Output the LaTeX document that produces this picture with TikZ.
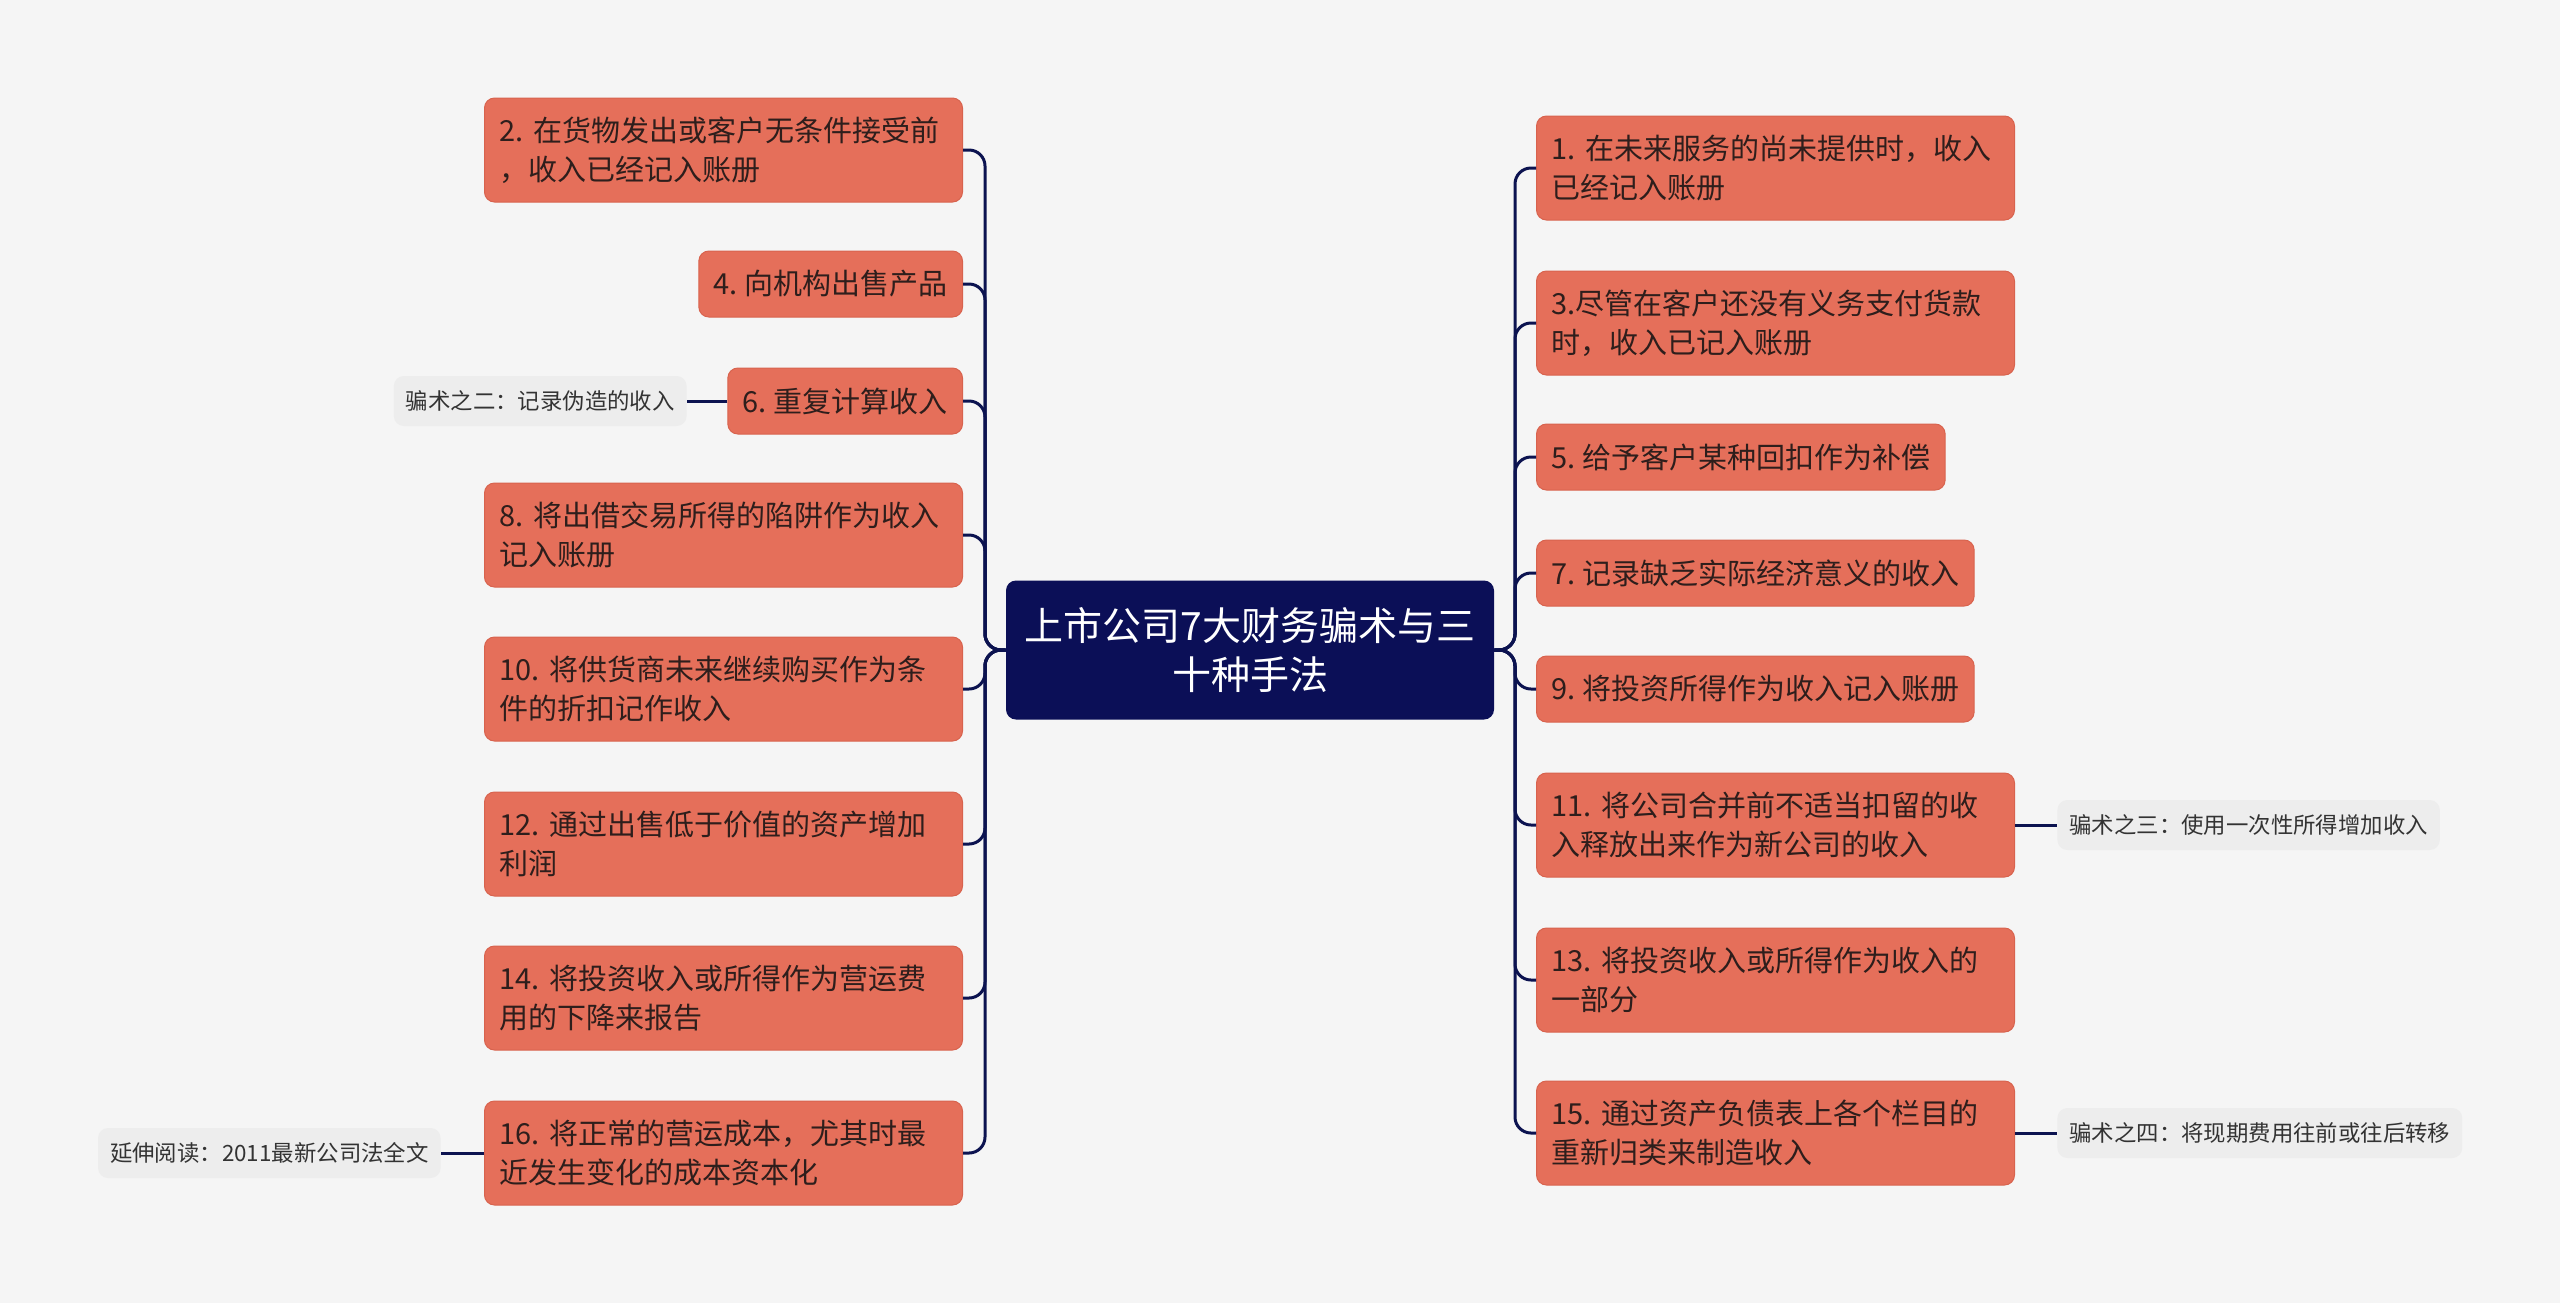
\documentclass[tikz,border=0pt]{standalone}
\usepackage{fontspec}
\setmainfont{Noto Sans CJK SC}
\usepackage{xcolor}
\usetikzlibrary{positioning, calc}

\definecolor{pagebg}{HTML}{F5F5F5}
\definecolor{coral}{HTML}{E56F5A}
\definecolor{coralline}{HTML}{D8634E}
\definecolor{navy}{HTML}{0B0F57}
\definecolor{linknavy}{HTML}{0C1350}
\definecolor{darktext}{HTML}{2E1E1C}
\definecolor{notebg}{HTML}{EDEDED}

\newcommand{\topicfont}{\fontsize{14.5pt}{19.6pt}\selectfont\frenchspacing}

\tikzset{
  topic/.style={rectangle, rounded corners=5pt, fill=coral, draw=coralline, line width=0.5pt,
    text=darktext, font=\topicfont,
    inner xsep=7.5pt, inner ysep=0pt, minimum height=33pt, align=left},
  widetopic/.style={topic, text width=224pt, minimum height=52pt},
  rootbox/.style={rectangle, rounded corners=5pt, fill=navy, text=white,
    font=\fontsize{19.5pt}{24.5pt}\selectfont, minimum width=244pt, minimum height=69.5pt, align=center},
  note/.style={rectangle, rounded corners=5pt, fill=notebg, text=black!80,
    font=\fontsize{11.2pt}{14pt}\selectfont, inner xsep=6pt, inner ysep=0pt, minimum height=25pt},
  link/.style={draw=linknavy, line width=1.5pt, rounded corners=8pt}
}

\begin{document}
\begin{tikzpicture}[x=0.5pt, y=-0.5pt]
\fill[pagebg] (0,0) rectangle (2560,1303);
\useasboundingbox (0,0) rectangle (2560,1303);

% central topic
\node[rootbox] (root) at (1250,650) {上市公司7大财务骗术与三\\十种手法};
\coordinate (ltrunk) at (985,650);
\coordinate (rtrunk) at (1515,650);

% left branches
\node[widetopic, anchor=east] (l2) at (963,150) {2. 在货物发出或客户无条件接受前\\，收入已经记入账册};
\node[topic, anchor=east] (l4) at (963,284) {4. 向机构出售产品};
\node[topic, anchor=east] (l6) at (963,401) {6. 重复计算收入};
\node[widetopic, anchor=east] (l8) at (963,535) {8. 将出借交易所得的陷阱作为收入\\记入账册};
\node[widetopic, anchor=east] (l10) at (963,689) {10. 将供货商未来继续购买作为条\\件的折扣记作收入};
\node[widetopic, anchor=east] (l12) at (963,844) {12. 通过出售低于价值的资产增加\\利润};
\node[widetopic, anchor=east] (l14) at (963,998) {14. 将投资收入或所得作为营运费\\用的下降来报告};
\node[widetopic, anchor=east] (l16) at (963,1153) {16. 将正常的营运成本，尤其时最\\近发生变化的成本资本化};

% right branches
\node[widetopic, anchor=west] (r1) at (1536,168) {1. 在未来服务的尚未提供时，收入\\已经记入账册};
\node[widetopic, anchor=west] (r3) at (1536,323) {3.尽管在客户还没有义务支付货款\\时，收入已记入账册};
\node[topic, anchor=west] (r5) at (1536,457) {5. 给予客户某种回扣作为补偿};
\node[topic, anchor=west] (r7) at (1536,573) {7. 记录缺乏实际经济意义的收入};
\node[topic, anchor=west] (r9) at (1536,689) {9. 将投资所得作为收入记入账册};
\node[widetopic, anchor=west] (r11) at (1536,825) {11. 将公司合并前不适当扣留的收\\入释放出来作为新公司的收入};
\node[widetopic, anchor=west] (r13) at (1536,980) {13. 将投资收入或所得作为收入的\\一部分};
\node[widetopic, anchor=west] (r15) at (1536,1133) {15. 通过资产负债表上各个栏目的\\重新归类来制造收入};

% notes
\node[note, anchor=east] (s2) at (687,401) {骗术之二：记录伪造的收入};
\node[note, anchor=east] (s16) at (441,1153) {延伸阅读：2011最新公司法全文};
\node[note, anchor=west] (s11) at (2057,825) {骗术之三：使用一次性所得增加收入};
\node[note, anchor=west] (s15) at (2057,1133) {骗术之四：将现期费用往前或往后转移};

% connectors
\foreach \n in {l2,l4,l6,l8,l10,l12,l14,l16}
  \draw[link] (root.west) -- (ltrunk) |- (\n.east);
\foreach \n in {r1,r3,r5,r7,r9,r11,r13,r15}
  \draw[link] (root.east) -- (rtrunk) |- (\n.west);
\draw[link] (l6.west) -- (s2.east);
\draw[link] (l16.west) -- (s16.east);
\draw[link] (r11.east) -- (s11.west);
\draw[link] (r15.east) -- (s15.west);
\end{tikzpicture}
\end{document}
